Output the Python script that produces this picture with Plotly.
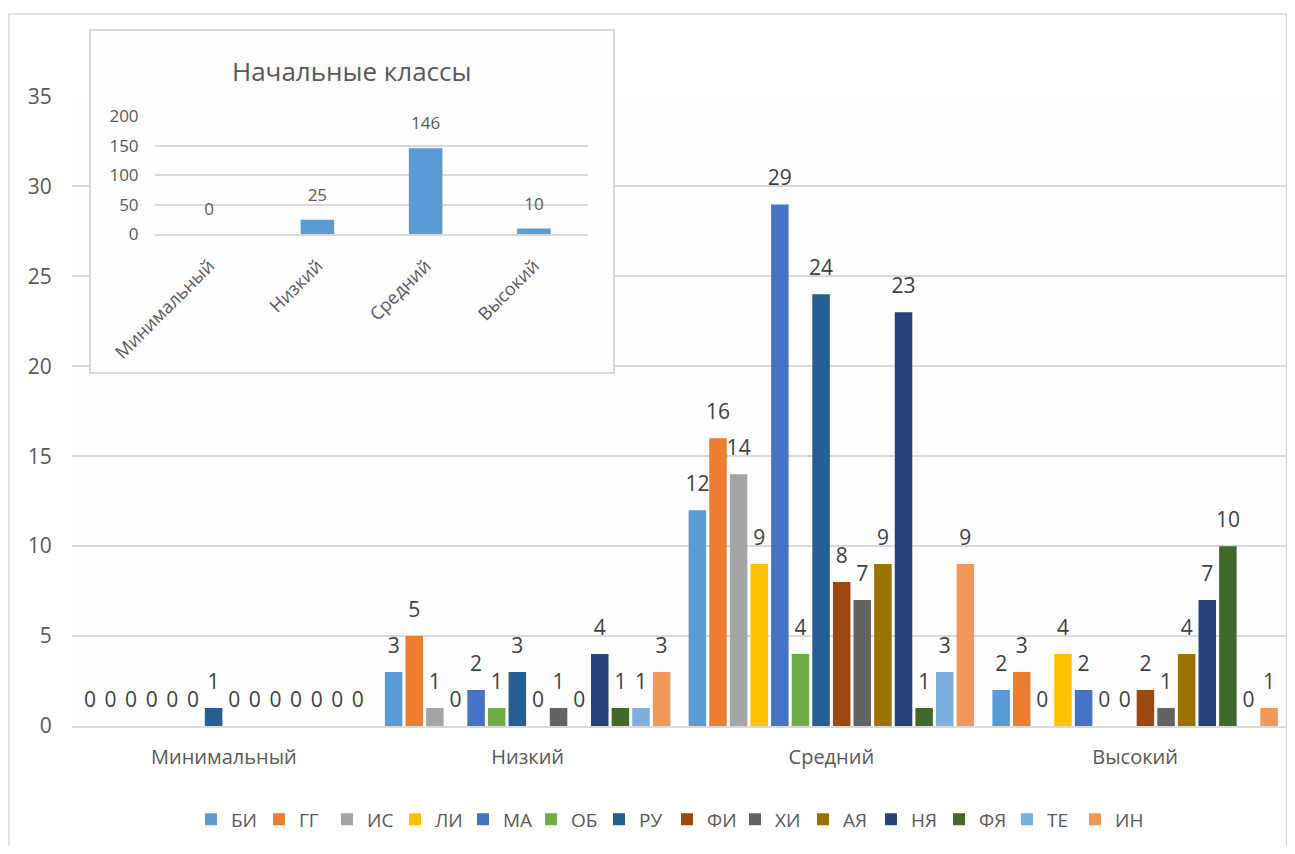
import plotly.graph_objects as go

# ---- data ----
levels = ["Минимальный", "Низкий", "Средний", "Высокий"]
subjects = ["БИ", "ГГ", "ИС", "ЛИ", "МА", "ОБ", "РУ", "ФИ", "ХИ", "АЯ", "НЯ", "ФЯ", "ТЕ", "ИН"]
minimal = [0, 0, 0, 0, 0, 0, 1, 0, 0, 0, 0, 0, 0, 0]
low = [3, 5, 1, 0, 2, 1, 3, 0, 1, 0, 4, 1, 1, 3]
medium = [12, 16, 14, 9, 29, 4, 24, 8, 7, 9, 23, 1, 3, 9]
high = [2, 3, 0, 4, 2, 0, 0, 2, 1, 4, 7, 10, 0, 1]

inset_title = "Начальные классы"
inset_levels = ["Минимальный", "Низкий", "Средний", "Высокий"]
inset_values = [0, 25, 146, 10]

colors = ["#5B9BD5", "#ED7D31", "#A5A5A5", "#FFC000", "#4472C4", "#70AD47", "#255E91",
          "#9E480E", "#636363", "#997300", "#264478", "#43682B", "#7CAFDD", "#F1975A"]

GRID = "#d9d9d9"
AXTXT = "#595959"
LBL = "#404040"
FONT = "Open Sans"

# value label: big number, followed by a small spacer line that lifts it above the bar
MAIN_LABEL = "<span style='font-size:21px'>%{y}</span><br>\u00a0"
INSET_LABEL = "<span style='font-size:17px'>%{y}</span><br>\u00a0"

fig = go.Figure()

for i, s in enumerate(subjects):
    vals = [minimal[i], low[i], medium[i], high[i]]
    fig.add_trace(go.Bar(
        name=s, x=levels, y=vals, xaxis="x", yaxis="y",
        marker=dict(color=colors[i], line=dict(width=0)),
        texttemplate=MAIN_LABEL, textposition="outside", constraintext="none", cliponaxis=False,
        textfont=dict(size=10, color=LBL, family=FONT),
    ))

# empty subplot used as the inset's framed background
fig.add_trace(go.Scatter(x=[], y=[], xaxis="x2", yaxis="y2", showlegend=False, hoverinfo="skip"))

fig.add_trace(go.Bar(
    x=inset_levels, y=inset_values, xaxis="x3", yaxis="y3", width=0.31,
    marker=dict(color="#5B9BD5", line=dict(width=0)), showlegend=False,
    texttemplate=INSET_LABEL, textposition="outside", constraintext="none", cliponaxis=False,
    textfont=dict(size=10, color=AXTXT, family=FONT),
))

hidden_ticks = "rgba(0,0,0,0)"

fig.update_layout(
    width=1279, height=838,
    paper_bgcolor="#ffffff", plot_bgcolor="#fefefe",
    margin=dict(l=64, r=0, t=10, b=120),
    barmode="group", bargap=0.05, bargroupgap=0.15,
    font=dict(family=FONT, color=AXTXT),
    showlegend=True,
    xaxis=dict(domain=[0, 1], anchor="y", type="category", showline=True, linecolor=GRID,
               linewidth=1.5, showgrid=False, zeroline=False, ticks="outside", ticklen=12,
               tickcolor=hidden_ticks, tickfont=dict(size=20, color=AXTXT)),
    yaxis=dict(domain=[0, 0.8955], anchor="x", range=[0, 35], dtick=5, showgrid=True,
               gridcolor=GRID, gridwidth=1.5, zeroline=False, showline=False,
               ticks="outside", ticklen=15, tickcolor=hidden_ticks,
               tickfont=dict(size=21, color=AXTXT)),
    xaxis2=dict(domain=[0.01564, 0.44527], anchor="y2", range=[0, 1], showline=True, mirror=True,
                linecolor=GRID, linewidth=1.5, showgrid=False, zeroline=False,
                showticklabels=False, ticks="", fixedrange=True),
    yaxis2=dict(domain=[0.50424, 0.98870], anchor="x2", range=[0, 1], showline=True, mirror=True,
                linecolor=GRID, linewidth=1.5, showgrid=False, zeroline=False,
                showticklabels=False, ticks="", fixedrange=True),
    xaxis3=dict(domain=[0.06831, 0.42469], anchor="y3", type="category", showline=True,
                linecolor=GRID, linewidth=1.5, showgrid=False, zeroline=False,
                tickangle=-45, ticks="outside", ticklen=12, tickcolor=hidden_ticks,
                tickfont=dict(size=18, color=AXTXT)),
    yaxis3=dict(domain=[0.69915, 0.86723], anchor="x3", range=[0, 200], dtick=50,
                showgrid=True, gridcolor=GRID, gridwidth=1.5, zeroline=False,
                ticks="outside", ticklen=12, tickcolor=hidden_ticks,
                tickfont=dict(size=17, color=AXTXT)),
    legend=dict(orientation="h", x=0.4897, xanchor="center", y=-0.1328, yanchor="middle",
                font=dict(size=19, color=AXTXT), itemwidth=30, traceorder="normal",
                entrywidth=23, entrywidthmode="pixels"),
    annotations=[dict(text=inset_title, xref="paper", yref="paper", x=0.23045, y=0.93220,
                      showarrow=False, xanchor="center", yanchor="middle",
                      font=dict(size=26, color=AXTXT))],
    shapes=[dict(type="rect", xref="paper", yref="paper", x0=-0.05185, x1=0.99959,
                 y0=-0.2, y1=1.01271, line=dict(color=GRID, width=1.5),
                 fillcolor="rgba(0,0,0,0)", layer="below")],
)

fig.write_html("out.html")
